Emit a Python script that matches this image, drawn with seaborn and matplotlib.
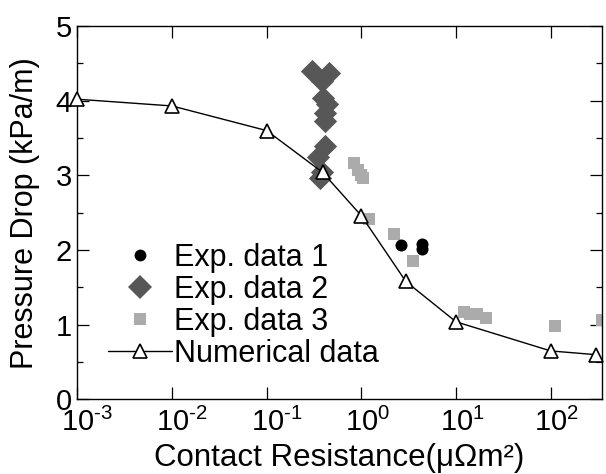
import numpy as np
import matplotlib
matplotlib.use("Agg")
import matplotlib.pyplot as plt
import matplotlib.transforms as mtransforms
from matplotlib.ticker import MultipleLocator, FixedLocator
from matplotlib.lines import Line2D
import seaborn as sns

# Exp. data 1 (black circles)
exp1_x = [2.6, 4.4, 4.4]
exp1_y = [2.07, 2.08, 2.01]

# Exp. data 2 (dark grey diamonds)
exp2_x = [0.30, 0.46, 0.38, 0.39, 0.43, 0.41, 0.41, 0.41, 0.345, 0.38, 0.37]
exp2_y = [4.40, 4.37, 4.27, 4.04, 3.95, 3.84, 3.73, 3.39, 3.25, 3.05, 2.96]

# Exp. data 3 (light grey squares)
exp3_x = [0.84, 0.93, 1.0, 1.05, 1.19, 2.2, 3.55, 12.0, 14.0, 16.6, 20.5, 112, 345]
exp3_y = [3.16, 3.07, 3.0, 2.96, 2.41, 2.22, 1.86, 1.17, 1.15, 1.14, 1.09, 0.99, 1.06]

# Numerical data (open triangles + line)
num_x = [1e-3, 1e-2, 1e-1, 0.39, 1.0, 2.95, 10, 100, 300]
num_y = [4.02, 3.93, 3.60, 3.04, 2.46, 1.58, 1.04, 0.65, 0.60]

xticks = [1e-3, 1e-2, 1e-1, 1, 10, 100]
xtick_labels = [r'$10^{\text{-}3}$', r'$10^{\text{-}2}$', r'$10^{\text{-}1}$',
                r'$10^{0}$', r'$10^{1}$', r'$10^{2}$']

sns.set_style("ticks")
plt.rcParams['font.family'] = ['Liberation Sans', 'DejaVu Sans']
plt.rcParams['mathtext.fontset'] = 'custom'
plt.rcParams['mathtext.rm'] = 'Liberation Sans'
plt.rcParams['mathtext.it'] = 'Liberation Sans'
plt.rcParams['mathtext.default'] = 'regular'
for key in ['text.color', 'axes.labelcolor', 'xtick.color', 'ytick.color',
            'xtick.labelcolor', 'ytick.labelcolor']:
    plt.rcParams[key] = 'black'

fig = plt.figure(figsize=(6.06, 4.74), dpi=100)
ax = fig.add_axes([0.1276, 0.1572, 0.8658, 0.7879])

sns.scatterplot(x=exp3_x, y=exp3_y, marker='s', s=64, color='#ababab',
                linewidth=0, ax=ax, zorder=2)
sns.scatterplot(x=exp2_x, y=exp2_y, marker='D', s=140, color='#575757',
                linewidth=0, ax=ax, zorder=2)
sns.scatterplot(x=exp1_x, y=exp1_y, marker='o', s=75, color='black',
                linewidth=0, ax=ax, zorder=3)
sns.lineplot(x=num_x, y=num_y, sort=False, color='black', linewidth=1.0,
             marker='^', markersize=10, markerfacecolor='white',
             markeredgecolor='black', markeredgewidth=1.2, ax=ax, zorder=4,
             clip_on=False)

ax.set_xscale('log')
ax.set_xlim(1e-3, 348)
ax.set_ylim(0, 5)

ax.xaxis.set_major_locator(FixedLocator(xticks))
ax.xaxis.set_minor_locator(FixedLocator([]))
ax.set_xticklabels(xtick_labels)
ax.yaxis.set_major_locator(MultipleLocator(1))
ax.yaxis.set_minor_locator(MultipleLocator(0.5))

ax.tick_params(which='both', direction='in', top=True, right=True,
               width=0.9, color='black', labelcolor='black')
ax.tick_params(which='major', length=8.6)
ax.tick_params(which='minor', length=4.3)
ax.tick_params(axis='y', labelsize=21, pad=4)
ax.tick_params(axis='x', labelsize=21, pad=6)
for sp in ax.spines.values():
    sp.set_linewidth(1.0)
    sp.set_color('black')

for lab in ax.get_xticklabels():
    dx = 10 if '-' in lab.get_text() else 6
    lab.set_transform(lab.get_transform() +
                      mtransforms.ScaledTranslation(dx / 100, 0, fig.dpi_scale_trans))

ax.set_xlabel('Contact Resistance(μΩm²)', fontsize=22.5, labelpad=4, color='black')
ax.set_ylabel('Pressure Drop (kPa/m)', fontsize=22, labelpad=11, color='black')

handles = [
    Line2D([], [], ls='none', marker='o', ms=8.5, color='black', mew=0),
    Line2D([], [], ls='none', marker='D', ms=12, color='#575757', mew=0),
    Line2D([], [], ls='none', marker='s', ms=8, color='#ababab', mew=0),
    Line2D([], [], color='black', lw=1.0, marker='^', ms=10, mfc='white',
           mec='black', mew=1.2),
]
labels = ['Exp. data 1', 'Exp. data 2', 'Exp. data 3', 'Numerical data']
leg = ax.legend(handles, labels, loc='upper left', bbox_to_anchor=(0.0585, 0.42),
                frameon=False, fontsize=22, handlelength=2.1, handletextpad=0.07,
                labelspacing=0.07, borderpad=0, borderaxespad=0)
for t in leg.get_texts():
    t.set_color('black')

fig.savefig('out.png', dpi=100)
